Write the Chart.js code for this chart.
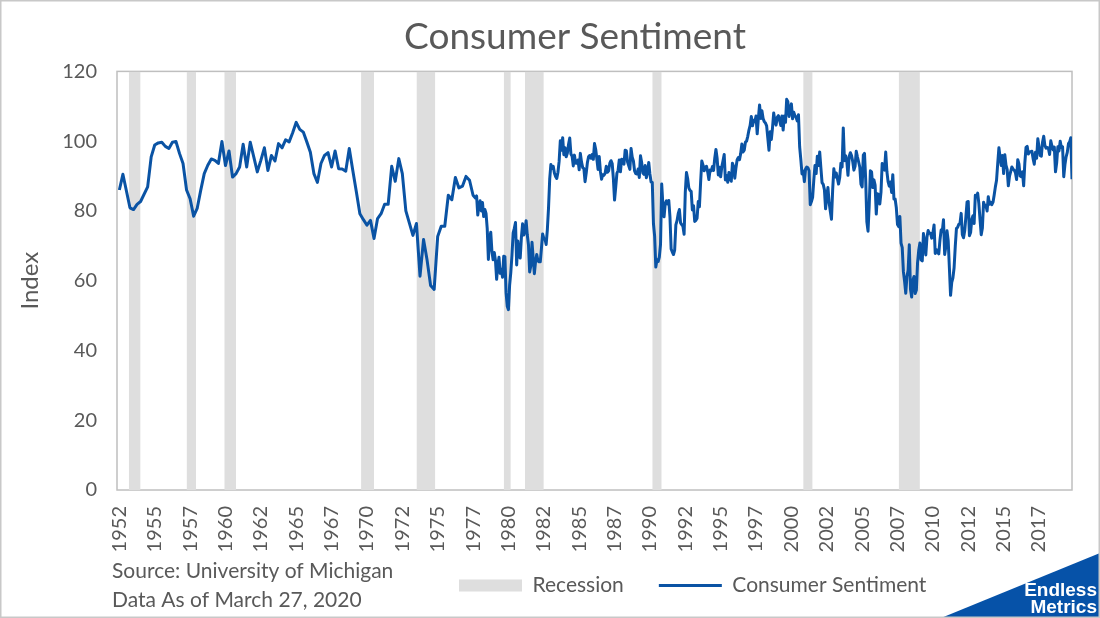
<!DOCTYPE html>
<html>
<head>
<meta charset="utf-8">
<title>Consumer Sentiment</title>
<script src="https://cdn.jsdelivr.net/npm/chart.js@4.4.1/dist/chart.umd.min.js"></script>
<style>
    html, body { margin: 0; padding: 0; background: #fff; }
    #wrap { width: 1100px; height: 618px; }
</style>
</head>
<body>
<div id="wrap"><canvas id="sentiment" width="1100" height="618"></canvas></div>
<script>
// Consumer sentiment (University of Michigan)
// 1952 - 1977: quarterly surveys
const surveyDates = [
    '1952-11', '1953-02', '1953-08', '1953-11', '1954-02', '1954-05', '1954-11',
    '1955-02', '1955-05', '1955-08', '1955-11', '1956-02', '1956-05', '1956-08', '1956-11',
    '1957-02', '1957-05', '1957-08', '1957-11', '1958-02', '1958-05', '1958-08', '1958-11',
    '1959-02', '1959-05', '1959-08', '1959-11', '1960-02', '1960-05', '1960-08', '1960-11',
    '1961-02', '1961-05', '1961-08', '1961-11', '1962-02', '1962-05', '1962-08', '1962-11',
    '1963-02', '1963-05', '1963-08', '1963-11', '1964-02', '1964-05', '1964-08', '1964-11',
    '1965-02', '1965-05', '1965-08', '1965-11', '1966-02', '1966-05', '1966-08', '1966-11',
    '1967-02', '1967-05', '1967-08', '1967-11', '1968-02', '1968-05', '1968-08', '1968-11',
    '1969-02', '1969-05', '1969-08', '1969-11', '1970-02', '1970-05', '1970-08', '1970-11',
    '1971-02', '1971-05', '1971-08', '1971-11', '1972-02', '1972-05', '1972-08', '1972-11',
    '1973-02', '1973-05', '1973-08', '1973-11', '1974-02', '1974-05', '1974-08', '1974-11',
    '1975-02', '1975-05', '1975-08', '1975-11', '1976-02', '1976-05', '1976-08', '1976-11',
    '1977-02', '1977-05', '1977-08', '1977-11'
];
const surveyValues = [
    86.0, 90.5, 80.9, 80.4, 81.9, 82.7, 86.9,
    95.5, 98.9, 99.5, 99.7, 98.5, 97.9, 99.7, 99.9,
    96.5, 93.6, 86.0, 83.5, 78.5, 80.7, 85.9, 90.7,
    93.1, 94.9, 94.5, 93.6, 99.9, 93.0, 97.2, 89.7,
    90.7, 92.6, 99.1, 92.6, 99.7, 95.5, 91.2, 94.5,
    98.1, 91.6, 95.9, 94.3, 99.3, 98.1, 100.4, 99.8,
    102.4, 105.4, 103.4, 102.6, 99.8, 96.8, 90.7, 88.2,
    93.6, 95.9, 96.7, 92.6, 97.2, 92.1, 92.0, 91.4,
    97.9, 91.6, 85.5, 79.2, 77.5, 75.9, 77.3, 72.1,
    77.8, 79.2, 81.9, 81.9, 92.8, 88.5, 95.0, 90.7,
    80.0, 76.5, 73.0, 76.4, 61.3, 71.8, 65.9, 58.6,
    57.5, 72.7, 75.6, 75.6, 84.5, 83.2, 89.6, 86.6,
    87.1, 89.9, 88.8, 84.5
];

// monthly from January 1978 to March 2020
const monthlyStart = '1978-01';
const monthlyValues = [
    83.7, 84.3, 78.8, 81.6, 82.9, 80.0, 82.4, 78.4, 80.4, 79.3, 75.0, 66.1,
    72.1, 73.9, 68.4, 66.0, 68.1, 65.8, 60.4, 64.5, 66.7, 62.1, 63.3, 61.0,
    67.0, 66.9, 56.5, 52.7, 51.7, 58.7, 62.3, 67.3, 73.7, 75.0, 76.7, 64.5,
    71.4, 66.9, 66.5, 72.4, 76.3, 73.1, 74.1, 77.2, 73.1, 70.3, 62.5, 64.3,
    71.0, 66.5, 62.0, 65.5, 67.5, 65.7, 65.4, 65.4, 69.3, 73.4, 72.1, 71.9,
    70.4, 74.6, 80.8, 89.1, 93.3, 92.2, 92.8, 90.9, 89.9, 89.3, 91.1, 94.2,
    100.1, 97.4, 101.0, 96.1, 98.1, 95.5, 96.6, 99.1, 100.9, 96.3, 95.7, 92.9,
    96.0, 93.7, 93.7, 94.6, 91.8, 96.5, 94.0, 92.4, 92.1, 88.4, 90.9, 93.9,
    95.6, 95.9, 95.1, 96.2, 94.8, 99.3, 97.7, 94.9, 91.9, 95.6, 91.4, 89.1,
    90.4, 90.2, 90.8, 92.8, 91.1, 91.5, 93.7, 94.4, 93.6, 89.3, 83.1, 86.8,
    90.8, 91.6, 94.6, 91.2, 94.8, 94.7, 93.4, 97.4, 97.3, 94.1, 93.0, 91.9,
    97.9, 95.4, 94.3, 91.5, 90.7, 90.6, 92.0, 89.6, 95.8, 93.9, 90.9, 90.5,
    93.0, 89.5, 91.3, 93.9, 90.6, 88.3, 88.2, 76.4, 72.8, 63.9, 66.0, 65.5,
    66.8, 70.4, 87.7, 81.8, 78.3, 82.1, 82.9, 82.0, 83.0, 78.3, 69.1, 68.2,
    67.5, 68.8, 76.0, 77.2, 79.2, 80.4, 76.6, 76.1, 75.6, 73.3, 85.3, 91.0,
    89.3, 86.6, 85.9, 85.6, 80.3, 81.5, 77.0, 77.3, 77.9, 82.7, 81.2, 88.2,
    94.3, 93.2, 91.5, 92.6, 92.8, 91.2, 89.0, 91.7, 91.5, 92.7, 91.6, 95.1,
    97.6, 95.1, 90.3, 92.5, 89.8, 92.7, 94.4, 96.2, 88.9, 90.2, 88.2, 91.0,
    89.3, 88.5, 93.7, 92.7, 89.4, 92.4, 94.7, 95.3, 94.7, 96.5, 99.2, 96.9,
    97.4, 99.7, 100.0, 101.4, 103.2, 104.5, 107.1, 104.4, 106.0, 105.6, 107.2, 102.1,
    106.6, 110.4, 106.5, 108.7, 106.5, 105.6, 105.2, 104.4, 100.9, 97.4, 102.7, 100.5,
    103.9, 108.1, 105.7, 104.6, 106.8, 107.3, 106.0, 104.5, 107.2, 103.2, 107.2, 105.4,
    112.0, 111.3, 107.1, 109.2, 110.7, 106.4, 108.3, 107.3, 106.8, 105.8, 107.6, 98.4,
    94.7, 90.6, 91.5, 88.4, 92.0, 92.6, 92.4, 91.5, 81.8, 82.7, 83.9, 88.8,
    93.0, 90.7, 95.7, 93.0, 96.9, 92.4, 88.1, 87.6, 86.1, 80.6, 84.2, 86.7,
    82.4, 79.9, 77.6, 86.0, 92.1, 89.7, 90.9, 89.3, 87.7, 89.6, 93.7, 92.6,
    103.8, 94.4, 95.8, 94.2, 90.2, 95.6, 96.7, 95.9, 94.2, 91.7, 92.8, 97.1,
    95.5, 94.1, 92.6, 87.7, 86.9, 96.0, 96.5, 89.1, 76.9, 74.2, 81.6, 91.5,
    91.2, 86.7, 88.9, 87.4, 79.1, 84.9, 84.7, 82.0, 85.4, 93.6, 92.1, 91.7,
    96.9, 91.3, 88.4, 87.1, 88.3, 85.3, 90.4, 83.4, 83.4, 80.9, 76.1, 75.5,
    78.4, 70.8, 69.5, 62.6, 59.8, 56.4, 61.2, 63.0, 70.3, 57.6, 55.3, 60.1,
    61.2, 56.3, 57.3, 65.1, 68.7, 70.8, 66.0, 65.7, 73.5, 70.6, 67.4, 72.5,
    74.4, 73.6, 73.6, 72.2, 73.6, 76.0, 67.8, 68.9, 68.2, 67.7, 71.6, 74.5,
    74.2, 77.5, 67.5, 69.8, 74.3, 71.5, 63.7, 55.8, 59.5, 60.8, 63.7, 69.9,
    75.0, 75.3, 76.2, 76.4, 79.3, 73.2, 72.3, 74.3, 78.3, 82.6, 82.7, 72.9,
    73.8, 77.6, 78.6, 76.4, 84.5, 84.1, 85.1, 82.1, 77.5, 73.2, 75.1, 82.5,
    81.2, 81.6, 80.0, 84.1, 81.9, 82.5, 81.8, 82.5, 84.6, 86.9, 88.8, 93.6,
    98.1, 95.4, 93.0, 95.9, 90.7, 96.1, 93.1, 91.9, 87.2, 90.0, 91.3, 92.6,
    92.0, 91.7, 91.0, 89.0, 94.7, 93.5, 90.0, 89.8, 91.2, 87.2, 93.8, 98.2,
    98.5, 96.3, 96.9, 97.0, 97.1, 95.0, 93.4, 96.8, 95.1, 100.7, 98.5, 95.9,
    95.7, 99.7, 101.4, 98.8, 98.0, 98.2, 97.9, 96.2, 100.1, 98.6, 97.5, 98.3,
    91.2, 93.8, 98.4, 97.2, 100.0, 98.2, 98.4, 89.8, 93.2, 95.5, 96.8, 99.3,
    99.8, 101.0, 89.1
];

// recessions (start / end month)
const recessionStarts = ['1953-07', '1957-08', '1960-04', '1969-12', '1973-11', '1980-01', '1981-07', '1990-07', '2001-03', '2007-12'];
const recessionEnds   = ['1954-05', '1958-04', '1961-02', '1970-11', '1975-03', '1980-07', '1982-11', '1991-03', '2001-11', '2009-06'];

// x axis: one label every 30 months
const tickDates = [
    '1952-11', '1955-05', '1957-11', '1960-05', '1962-11', '1965-05', '1967-11', '1970-05', '1972-11',
    '1975-05', '1977-11', '1980-05', '1982-11', '1985-05', '1987-11', '1990-05', '1992-11', '1995-05',
    '1997-11', '2000-05', '2002-11', '2005-05', '2007-11', '2010-05', '2012-11', '2015-05', '2017-11'
];
const axisStart = '1952-09';
const axisEnd = '2020-03';
const yMax = 120;
const yStep = 20;

const textColor = '#595959';
const lineColor = '#0A53A4';
const recessionColor = '#DEDEDE';

// 'YYYY-MM' -> decimal year
function toYear(s) {
    const [y, m] = s.split('-').map(Number);
    return y + (m - 1) / 12;
}

const sentimentPoints = surveyDates.map((d, i) => ({ x: toYear(d), y: surveyValues[i] }));
const startYear = toYear(monthlyStart);
monthlyValues.forEach((v, i) => sentimentPoints.push({ x: startYear + i / 12, y: v }));

// each recession = a flat segment at the top, filled down to 0
const recessionPoints = [];
recessionStarts.forEach((s, i) => {
    recessionPoints.push({ x: toYear(s), y: yMax });
    recessionPoints.push({ x: toYear(recessionEnds[i]), y: yMax });
    recessionPoints.push({ x: toYear(recessionEnds[i]), y: null });
});

// frame round the plot area
const plotFrame = {
    id: 'plotFrame',
    beforeDatasetsDraw(chart) {
        const { ctx, chartArea: a } = chart;
        ctx.save();
        ctx.strokeStyle = '#BFBFBF';
        ctx.lineWidth = 1.5;
        ctx.strokeRect(a.left, a.top, a.right - a.left, a.bottom - a.top);
        ctx.restore();
    }
};

// put title and legend where the original has them
const placeBlocks = {
    id: 'placeBlocks',
    afterLayout(chart) {
        const tb = chart.titleBlock;
        const d = 575 - (tb.left + tb.right) / 2;
        tb.left += d;
        tb.right += d;
        const lg = chart.legend;
        const w = lg.right - lg.left, h = lg.bottom - lg.top;
        lg.left = 424;
        lg.right = lg.left + w;
        lg.top = 540;
        lg.bottom = lg.top + h;
    }
};

// source note, outer border and logo
const extras = {
    id: 'extras',
    afterDraw(chart) {
        const ctx = chart.ctx;
        const W = chart.width, H = chart.height;
        ctx.save();
        ctx.fillStyle = textColor;
        ctx.font = '21px Lato';
        ctx.textAlign = 'left';
        ctx.textBaseline = 'alphabetic';
        ctx.fillText('Source: University of Michigan', 112, 578);
        ctx.fillText('Data As of March 27, 2020', 112, 607);

        ctx.fillStyle = '#0652A8';
        ctx.beginPath();
        ctx.moveTo(941, H);
        ctx.lineTo(W, 553);
        ctx.lineTo(W, H);
        ctx.closePath();
        ctx.fill();
        ctx.fillStyle = '#fff';
        ctx.font = 'bold 19px "Liberation Sans"';
        ctx.textAlign = 'right';
        ctx.fillText('Endless', W - 3, 596);
        ctx.fillText('Metrics', W - 3, 613);

        ctx.strokeStyle = '#C8C8C8';
        ctx.lineWidth = 1.5;
        ctx.strokeRect(0.75, 0.75, W - 1.5, H - 1.5);
        ctx.restore();
    }
};

const ctx = document.getElementById('sentiment').getContext('2d');
new Chart(ctx, {
    type: 'line',
    data: {
        datasets: [{
            label: 'Consumer Sentiment',
            data: sentimentPoints,
            borderColor: lineColor,
            borderWidth: 3,
            borderJoinStyle: 'round',
            pointRadius: 0,
            tension: 0,
            fill: false,
            order: 0
        }, {
            label: 'Recession',
            data: recessionPoints,
            borderWidth: 0,
            borderColor: recessionColor,
            backgroundColor: recessionColor,
            pointRadius: 0,
            spanGaps: false,
            fill: 'origin',
            order: 1
        }]
    },
    options: {
        responsive: false,
        animation: false,
        layout: { padding: { top: 0, right: 28, bottom: 0, left: 0 } },
        scales: {
            x: {
                type: 'linear',
                min: toYear(axisStart),
                max: toYear(axisEnd),
                grid: { display: false, drawTicks: false },
                border: { display: false },
                afterBuildTicks: scale => {
                    scale.ticks = tickDates.map(d => ({ value: toYear(d) }));
                },
                afterFit: scale => { scale.height = 62; },
                ticks: {
                    autoSkip: false,
                    minRotation: 90,
                    maxRotation: 90,
                    padding: 16,
                    color: textColor,
                    font: { family: 'Lato', size: 20 },
                    callback: (value, index) => tickDates[index].slice(0, 4)
                }
            },
            y: {
                min: 0,
                max: yMax,
                grid: { display: false, drawTicks: false },
                border: { display: false },
                afterFit: scale => { scale.width = 117; },
                ticks: {
                    stepSize: yStep,
                    padding: 20,
                    color: textColor,
                    font: { family: 'Lato', size: 20 }
                },
                title: {
                    display: true,
                    text: 'Index',
                    color: textColor,
                    font: { family: 'Lato', size: 24 },
                    padding: { top: 16, bottom: 0 }
                }
            }
        },
        plugins: {
            title: {
                display: true,
                text: 'Consumer Sentiment',
                color: textColor,
                font: { family: 'Lato', size: 37, weight: 'normal' },
                padding: { top: 15, bottom: 12 }
            },
            legend: {
                position: 'bottom',
                align: 'start',
                labels: {
                    usePointStyle: true,
                    pointStyleWidth: 63,
                    boxHeight: 12,
                    padding: 35,
                    color: textColor,
                    font: { family: 'Lato', size: 21 },
                    generateLabels: () => [
                        { text: 'Recession', fillStyle: recessionColor, strokeStyle: recessionColor, lineWidth: 0, pointStyle: 'rect', fontColor: textColor, datasetIndex: 1 },
                        { text: 'Consumer Sentiment', fillStyle: lineColor, strokeStyle: lineColor, lineWidth: 3, pointStyle: 'line', fontColor: textColor, datasetIndex: 0 }
                    ]
                }
            },
            tooltip: { enabled: false }
        }
    },
    plugins: [plotFrame, placeBlocks, extras]
});
</script>
</body>
</html>
